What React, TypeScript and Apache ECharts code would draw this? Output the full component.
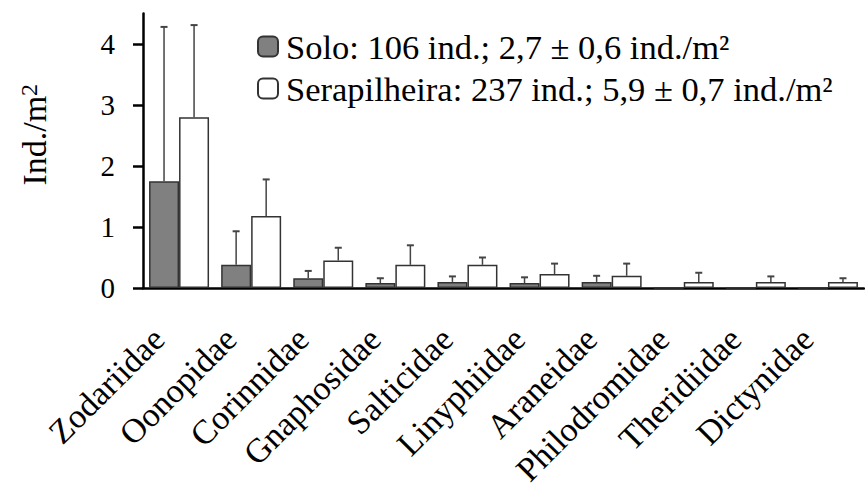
import React, { useEffect, useRef } from "react";
import * as echarts from "echarts";

const categories = [
  "Zodariidae",
  "Oonopidae",
  "Corinnidae",
  "Gnaphosidae",
  "Salticidae",
  "Linyphiidae",
  "Araneidae",
  "Philodromidae",
  "Theridiidae",
  "Dictynidae",
];
const soloMean = [1.75, 0.38, 0.16, 0.08, 0.1, 0.08, 0.1, 0, 0, 0];
const soloErr = [2.53, 0.55, 0.12, 0.08, 0.09, 0.095, 0.1, 0, 0, 0];
const serapMean = [2.8, 1.18, 0.45, 0.38, 0.38, 0.23, 0.2, 0.1, 0.1, 0.1];
const serapErr = [1.51, 0.6, 0.21, 0.32, 0.12, 0.17, 0.2, 0.15, 0.09, 0.06];
const yTicks = [0, 1, 2, 3, 4];
const soloName = "Solo: 106 ind.; 2,7 ± 0,6 ind./m²";
const serapName = "Serapilheira: 237 ind.; 5,9 ± 0,7 ind./m²";

const FONT = "Liberation Serif";

function errData(mean: number[], err: number[]) {
  return mean
    .map((m, i) => [i, m, m + err[i], err[i]])
    .filter((d) => d[3] > 0)
    .map((d) => [d[0], d[1], d[2]]);
}

function makeRender(frac: number) {
  return (params: any, api: any) => {
    const idx = api.value(0);
    const mean = api.value(1);
    const upper = api.value(2);
    const band = api.size([1, 0])[0];
    const p0 = api.coord([idx, mean]);
    const p1 = api.coord([idx, upper]);
    const x = p0[0] + band * frac;
    const cap = 3.5;
    return {
      type: "group",
      children: [
        {
          type: "line",
          shape: { x1: x, y1: p0[1], x2: x, y2: p1[1] },
          style: { stroke: "#444", lineWidth: 1.5 },
        },
        {
          type: "line",
          shape: { x1: x - cap, y1: p1[1], x2: x + cap, y2: p1[1] },
          style: { stroke: "#444", lineWidth: 2 },
        },
      ],
    };
  };
}

export default function App() {
  const ref = useRef<HTMLDivElement>(null);
  useEffect(() => {
    document.body.style.margin = "0";
    const chart = echarts.init(ref.current!, null, { renderer: "svg" });
    chart.setOption({
      animation: false,
      backgroundColor: "#fff",
      grid: {
        left: 143,
        right: 1,
        top: 13.5,
        bottom: 200,
        containLabel: false,
        outerBoundsMode: "none",
      },
      legend: {
        orient: "vertical",
        left: 252,
        top: 24,
        itemWidth: 20,
        itemHeight: 20,
        itemGap: 7,
        data: [soloName, serapName],
        textStyle: {
          fontFamily: FONT,
          fontSize: 34.5,
          color: "#000",
          padding: [0, 0, 0, 3],
        },
      },
      xAxis: {
        type: "category",
        data: categories,
        axisLine: { lineStyle: { color: "#000", width: 2.5 } },
        axisTick: { length: 10, lineStyle: { color: "#000", width: 2.5 } },
        axisLabel: {
          interval: 0,
          rotate: 45,
          margin: 25,
          padding: [0, 29, 0, 0],
          fontFamily: FONT,
          fontSize: 34,
          color: "#000",
        },
      },
      yAxis: {
        type: "value",
        min: 0,
        max: 4.5,
        interval: 1,
        name: "{a|Ind./m}{b|2}",
        nameLocation: "middle",
        nameGap: 92,
        nameRotate: 90,
        nameTextStyle: {
          fontFamily: FONT,
          fontSize: 34,
          color: "#000",
          padding: [0, 0, 0, 32],
          rich: {
            a: { fontFamily: FONT, fontSize: 34, color: "#000" },
            b: {
              fontFamily: FONT,
              fontSize: 24,
              color: "#000",
              verticalAlign: "top",
            },
          },
        },
        splitLine: { show: false },
        axisLine: { show: true, lineStyle: { color: "#000", width: 2.5 } },
        axisTick: {
          show: true,
          length: 10,
          customValues: yTicks,
          lineStyle: { color: "#000", width: 2.5 },
        },
        axisLabel: {
          customValues: yTicks,
          margin: 28,
          fontFamily: FONT,
          fontSize: 29,
          color: "#000",
        },
      },
      series: [
        {
          name: soloName,
          type: "bar",
          data: soloMean,
          barWidth: "41.6%",
          barGap: "0%",
          itemStyle: { color: "#808080", borderColor: "#333", borderWidth: 1.5 },
        },
        {
          name: serapName,
          type: "bar",
          data: serapMean,
          barWidth: "41.6%",
          barGap: "0%",
          itemStyle: { color: "#ffffff", borderColor: "#333", borderWidth: 1.5 },
        },
        {
          name: "errSolo",
          type: "custom",
          z: 5,
          data: errData(soloMean, soloErr),
          encode: { x: 0, y: [1, 2] },
          renderItem: makeRender(-0.2083),
        },
        {
          name: "errSerap",
          type: "custom",
          z: 5,
          data: errData(serapMean, serapErr),
          encode: { x: 0, y: [1, 2] },
          renderItem: makeRender(0.2083),
        },
      ],
    });
    return () => chart.dispose();
  }, []);
  return <div ref={ref} style={{ width: 865, height: 488 }} />;
}
